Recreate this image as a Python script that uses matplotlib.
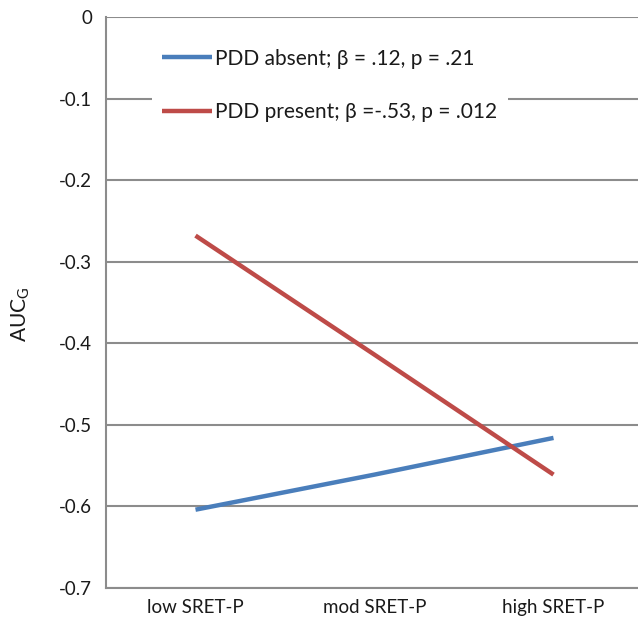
import numpy as np
import matplotlib.pyplot as plt

plt.rcParams['font.family'] = ['Lato', 'DejaVu Sans']

categories = ['low SRET-P', 'mod SRET-P', 'high SRET-P']
absent = [-0.604, -0.561, -0.516]
present = [-0.268, -0.414, -0.561]
absent_label = 'PDD absent; β = .12, p = .21'
present_label = 'PDD present; β =-.53, p = .012'
yticks = [0, -0.1, -0.2, -0.3, -0.4, -0.5, -0.6, -0.7]

fig = plt.figure(figsize=(6.38, 6.23), dpi=100)
ax = fig.add_axes([106/638, 35/623, 537/638, 571/623])

x = np.arange(len(categories))
ax.plot(x, absent, color='#4a7ebb', lw=3.2, label=absent_label, solid_capstyle='butt')
ax.plot(x, present, color='#be4b48', lw=3.2, label=present_label, solid_capstyle='butt')

ax.set_xlim(-0.5, 2.5)
ax.set_ylim(-0.7, 0)
ax.set_yticks(yticks)
ax.set_yticklabels(['0' if v == 0 else f'{v:.1f}' for v in yticks])
ax.set_xticks(x)
ax.set_xticklabels(categories)
ax.tick_params(length=0, labelsize=13.5, colors='#1a1a1a')
ax.tick_params(axis='y', pad=10)
ax.tick_params(axis='x', pad=8)
ax.grid(axis='y', color='#8c8c8c', lw=1.5)
ax.set_axisbelow(True)
for s in ['top', 'right']:
    ax.spines[s].set_visible(False)
for s in ['left', 'bottom']:
    ax.spines[s].set_color('#8c8c8c')
    ax.spines[s].set_linewidth(1.5)

ax.set_ylabel('AUC$_\\mathregular{G}$', fontsize=15, color='#1a1a1a')
ax.yaxis.set_label_coords(-0.137, 0.48)

leg = ax.legend(loc='upper left', bbox_to_anchor=(0.085, 0.963), borderaxespad=0,
                frameon=True, facecolor='white', edgecolor='none', framealpha=1,
                fancybox=False, fontsize=15, handlelength=2.4, handletextpad=0.15,
                labelspacing=1.6, borderpad=0.5)
for t in leg.get_texts():
    t.set_color('#1a1a1a')

fig.savefig('out.png', dpi=100)
